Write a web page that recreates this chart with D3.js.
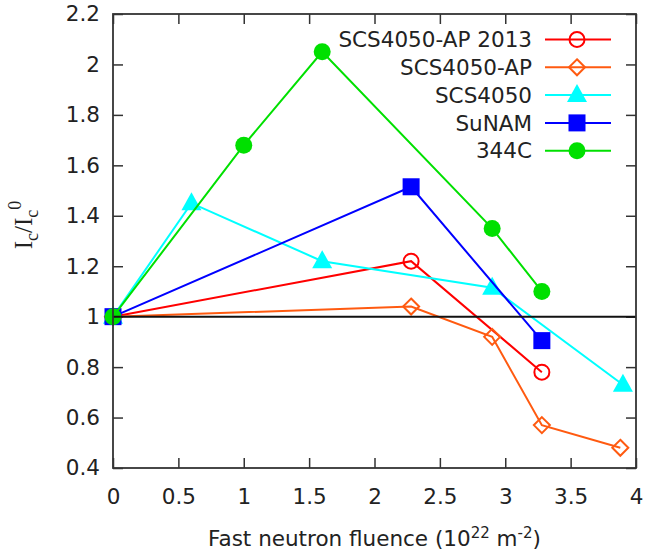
<!DOCTYPE html>
<html><head><meta charset="utf-8">
<script src="https://cdn.jsdelivr.net/npm/d3@7"></script>
<style>body{margin:0;background:#fff}</style>
</head><body>
<script>
const seriesNames = ["SCS4050-AP 2013","SCS4050-AP","SCS4050","SuNAM","344C"];
const seriesColors = ["#ff0000","#ff5a10","#00ffff","#0000ff","#00e000"];
const seriesShapes = ["circleOpen","diamondOpen","triangle","square","circle"];
const apX2013 = [0,2.28,3.28], apY2013 = [1,1.22,0.78];
const apX = [0,2.28,2.9,3.28,3.88], apY = [1,1.04,0.92,0.57,0.48];
const scsX = [0,0.6,1.6,2.9,3.9], scsY = [1,1.45,1.22,1.115,0.73];
const sunX = [0,2.28,3.28], sunY = [1,1.515,0.905];
const c344X = [0,1.0,1.6,2.9,3.28], c344Y = [1,1.68,2.05,1.35,1.10];
const xTicks = [0,0.5,1,1.5,2,2.5,3,3.5,4];
const yTicks = [0.4,0.6,0.8,1,1.2,1.4,1.6,1.8,2,2.2];

const seriesX = [apX2013, apX, scsX, sunX, c344X];
const seriesY = [apY2013, apY, scsY, sunY, c344Y];

const W=648,H=557, L=113,R=636,T=14,B=468;
const svg=d3.select("body").append("svg").attr("width",W).attr("height",H);
const x=d3.scaleLinear().domain([0,4]).range([L,R]);
const y=d3.scaleLinear().domain([0.4,2.2]).range([B,T]);
const font='"DejaVu Sans", Verdana, sans-serif';
const fs=21.5;
const axisColor="#333";

function marker(g, shape, color, cx, cy){
  if(shape==="circleOpen") g.append("circle").attr("cx",cx).attr("cy",cy).attr("r",7.5).attr("fill","none").attr("stroke",color).attr("stroke-width",2);
  else if(shape==="circle") g.append("circle").attr("cx",cx).attr("cy",cy).attr("r",8.5).attr("fill",color);
  else if(shape==="diamondOpen") g.append("path").attr("d",`M${cx},${cy-8}L${cx+8},${cy}L${cx},${cy+8}L${cx-8},${cy}Z`).attr("fill","none").attr("stroke",color).attr("stroke-width",2);
  else if(shape==="triangle") g.append("path").attr("d",`M${cx},${cy-11}L${cx+10},${cy+7}L${cx-10},${cy+7}Z`).attr("fill",color);
  else if(shape==="square") g.append("rect").attr("x",cx-8.5).attr("y",cy-8.5).attr("width",17).attr("height",17).attr("fill",color);
}

// axes
const gx=svg.append("g").attr("transform",`translate(0,${B})`)
  .call(d3.axisBottom(x).tickValues(xTicks).tickSize(-10).tickPadding(21).tickFormat(d3.format("")));
const gxt=svg.append("g").attr("transform",`translate(0,${T})`)
  .call(d3.axisTop(x).tickValues(xTicks).tickSize(-10).tickFormat(""));
const gy=svg.append("g").attr("transform",`translate(${L},0)`)
  .call(d3.axisLeft(y).tickValues(yTicks).tickSize(-10).tickPadding(13).tickFormat(d3.format("")));
const gyr=svg.append("g").attr("transform",`translate(${R},0)`)
  .call(d3.axisRight(y).tickValues(yTicks).tickSize(-10).tickFormat(""));
[gx,gxt,gy,gyr].forEach(g=>{
  g.select(".domain").remove();
  g.selectAll(".tick line").attr("stroke",axisColor).attr("stroke-width",1.5);
  g.selectAll("text").attr("font-family",font).attr("font-size",fs).attr("fill","#222");
});

// series
const data=svg.append("g");
seriesNames.forEach((n,i)=>{
  const pts=seriesX[i].map((v,j)=>[x(v),y(seriesY[i][j])]);
  data.append("path").attr("d",d3.line()(pts)).attr("fill","none").attr("stroke",seriesColors[i]).attr("stroke-width",2);
  pts.forEach(p=>marker(data,seriesShapes[i],seriesColors[i],p[0],p[1]));
});

// reference line at 1
svg.append("line").attr("x1",x(0)).attr("x2",x(4)).attr("y1",y(1)).attr("y2",y(1)).attr("stroke","#111").attr("stroke-width",2);
// frame
svg.append("rect").attr("x",L).attr("y",T).attr("width",R-L).attr("height",B-T).attr("fill","none").attr("stroke",axisColor).attr("stroke-width",1.8);

// legend
const lg=svg.append("g");
const ly0=39.5, ldy=27.8;
seriesNames.forEach((n,i)=>{
  const yy=ly0+i*ldy;
  lg.append("text").attr("x",532).attr("y",yy).attr("dy","0.36em").attr("text-anchor","end")
    .attr("font-family",font).attr("font-size",fs).attr("fill","#222").text(n);
  lg.append("line").attr("x1",545).attr("x2",611).attr("y1",yy).attr("y2",yy).attr("stroke",seriesColors[i]).attr("stroke-width",2);
  marker(lg,seriesShapes[i],seriesColors[i],577,yy);
});

// x title
const xt=svg.append("text").attr("x",(L+R)/2).attr("y",546).attr("text-anchor","middle")
  .attr("font-family",font).attr("font-size",fs).attr("fill","#222");
xt.append("tspan").text("Fast neutron fluence (10");
xt.append("tspan").attr("dy",-8).attr("font-size",15).text("22");
xt.append("tspan").attr("dy",8).text(" m");
xt.append("tspan").attr("dy",-8).attr("font-size",15).text("-2");
xt.append("tspan").attr("dy",8).text(")");

// y title
const yt=svg.append("text").attr("transform","translate(32,225) rotate(-90)").attr("text-anchor","middle")
  .attr("font-family",'"Liberation Serif", "Times New Roman", serif').attr("font-size",25).attr("fill","#222");
yt.append("tspan").text("I");
yt.append("tspan").attr("dy",6).attr("font-size",18).text("c");
yt.append("tspan").attr("dy",-6).text("/I");
yt.append("tspan").attr("dy",6).attr("font-size",18).text("c");
yt.append("tspan").attr("dy",-17).attr("font-size",18).text("0");
</script>
</body></html>
